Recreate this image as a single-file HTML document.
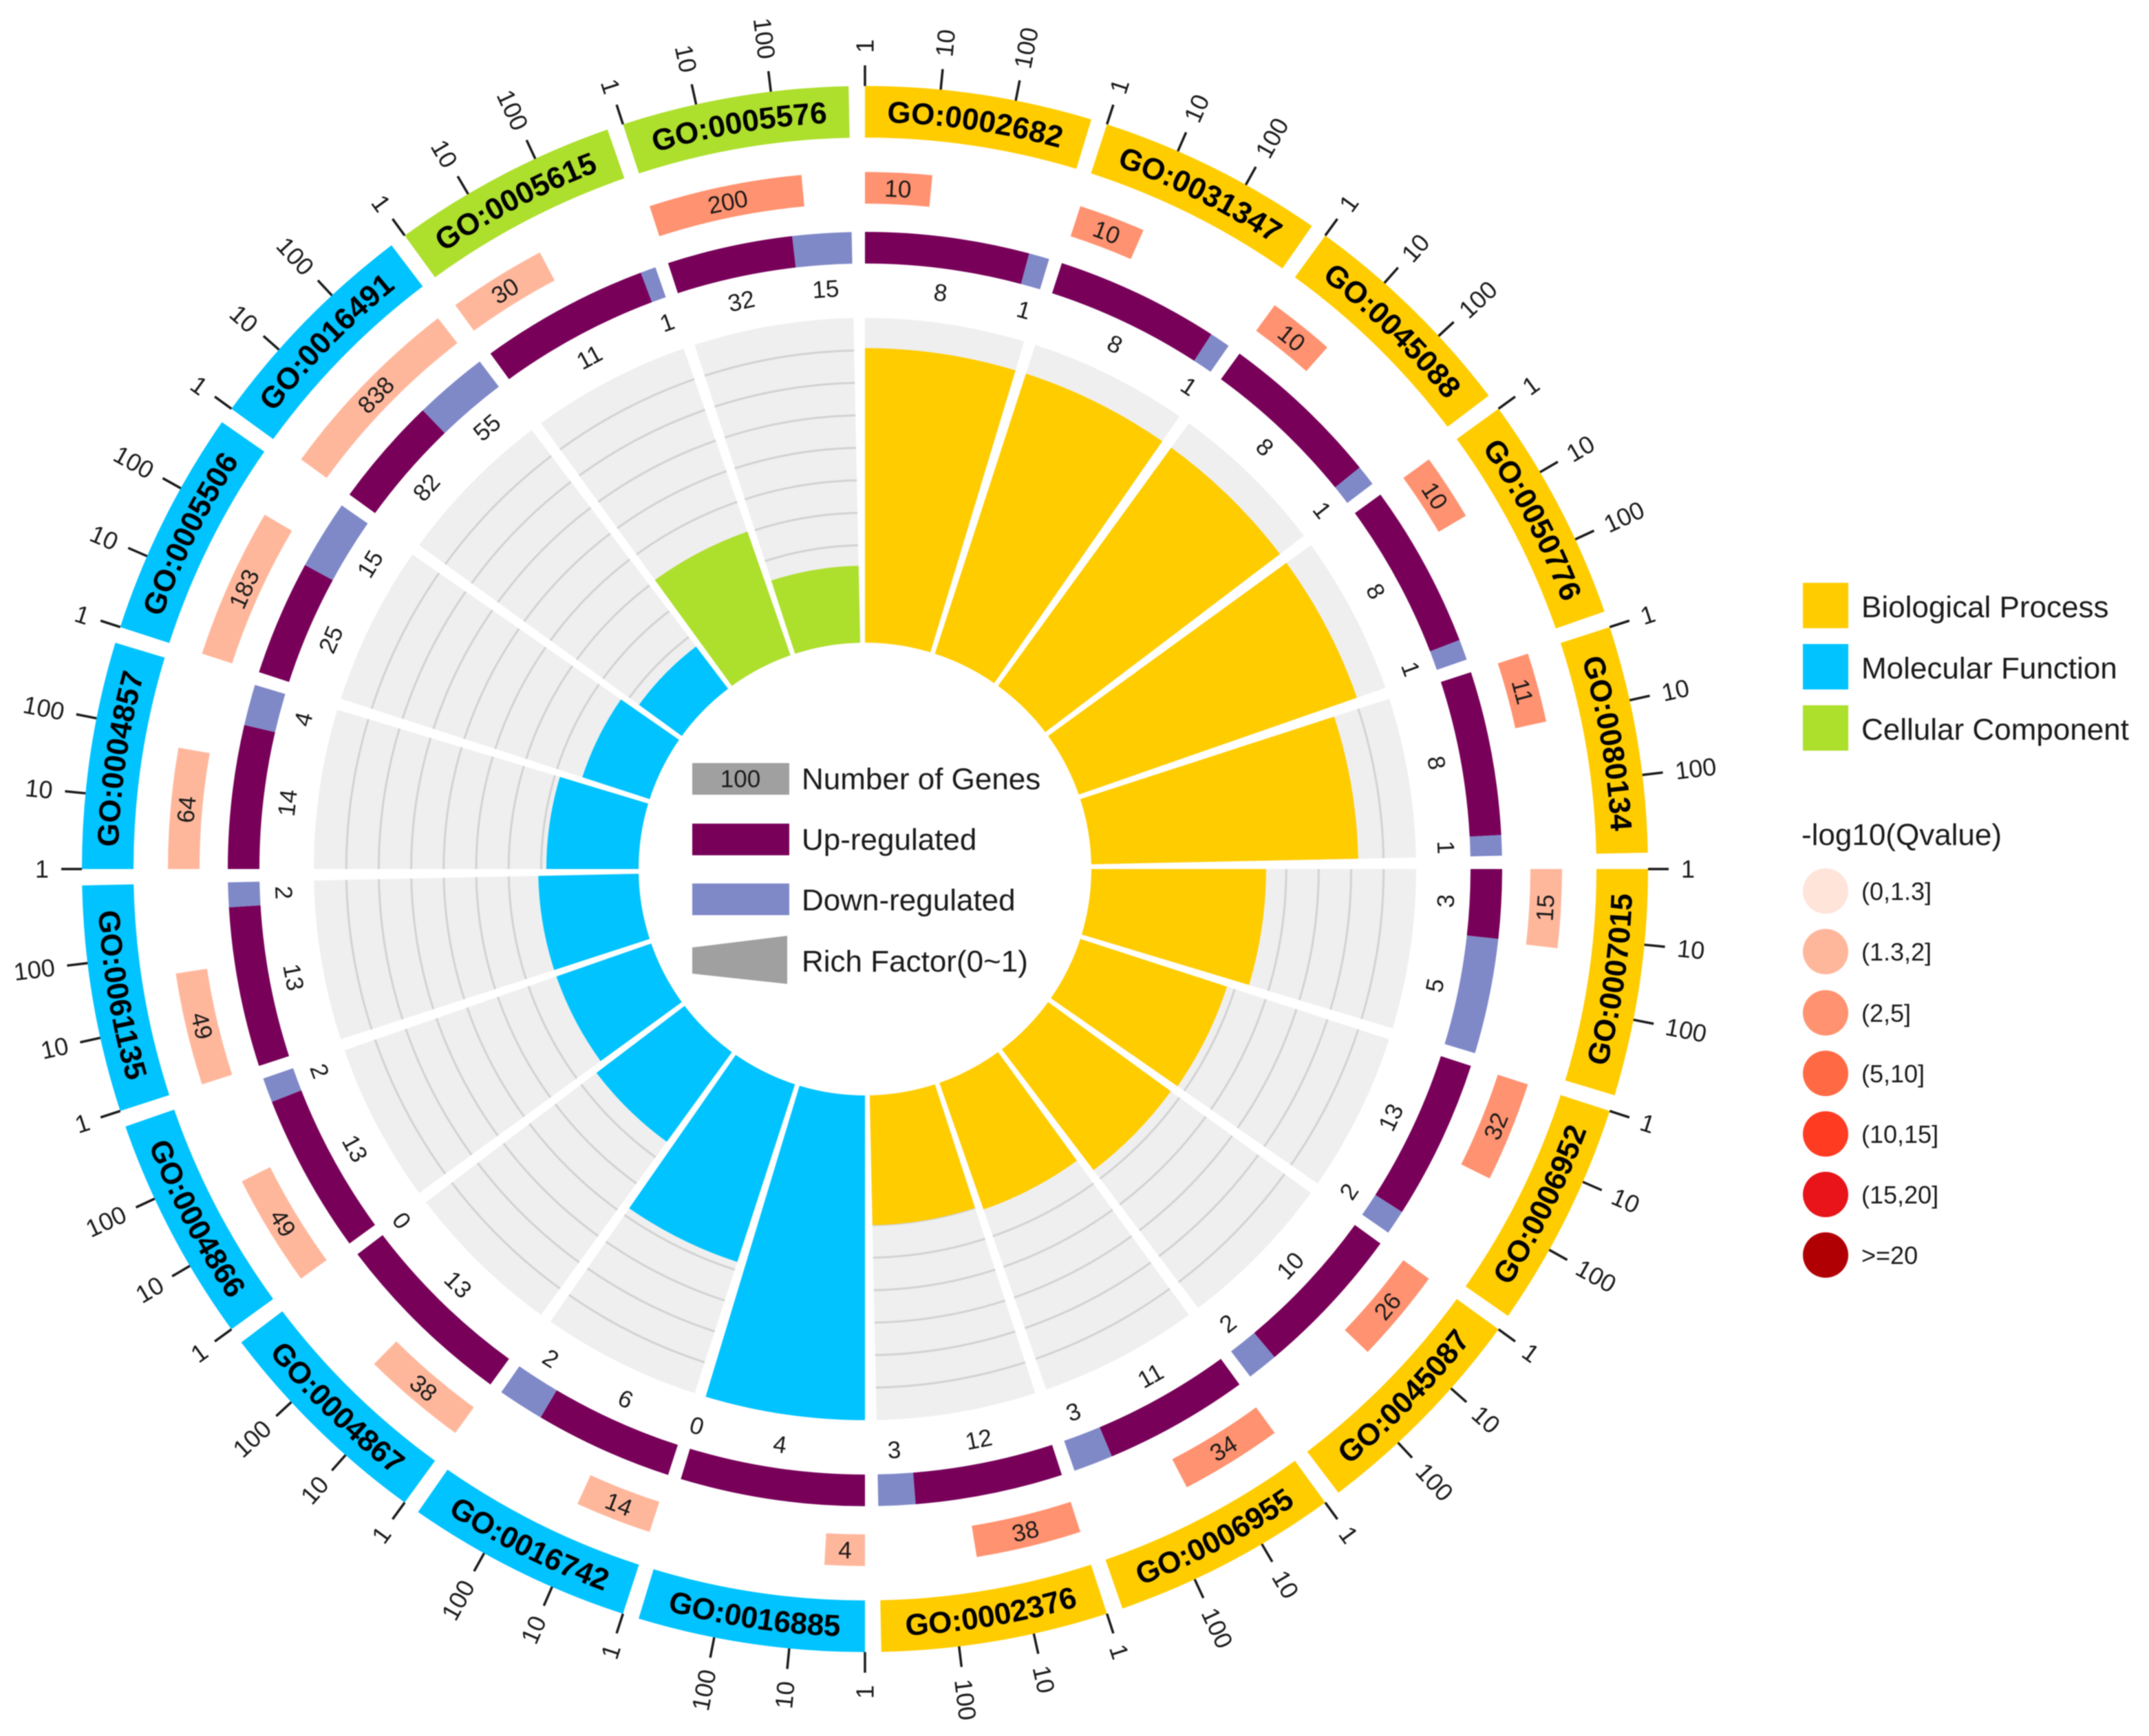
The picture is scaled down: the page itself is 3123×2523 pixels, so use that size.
<!DOCTYPE html>
<html lang="en">
<head>
<meta charset="utf-8">
<title>GO enrichment circle chart</title>
<style>
html,body{margin:0;padding:0;background:#fff;}
svg{display:block;font-family:"Liberation Sans",sans-serif;filter:blur(0.7px);}
</style>
</head>
<body>
<svg id="chart" xmlns="http://www.w3.org/2000/svg" width="3123" height="2523" viewBox="0 0 3123 2523">
<rect width="3123" height="2523" fill="#ffffff"/>
<defs id="arc-defs"></defs>
<g id="layer-bg"></g>
<g id="layer-grid"></g>
<g id="layer-bars"></g>
<g id="layer-reg"></g>
<g id="layer-count"></g>
<g id="layer-outer"></g>
<g font-size="44" fill="#1a1a1a">
  <rect x="1006" y="1109" width="141" height="46" fill="#a0a0a0"/>
  <text x="1076" y="1144" font-size="35" text-anchor="middle">100</text>
  <text x="1165" y="1147">Number of Genes</text>
  <rect x="1006" y="1197" width="141" height="46" fill="#780059"/>
  <text x="1165" y="1235">Up-regulated</text>
  <rect x="1006" y="1284" width="141" height="46" fill="#7f89c8"/>
  <text x="1165" y="1323">Down-regulated</text>
  <polygon points="1006,1377 1144,1360 1144,1430 1006,1415" fill="#a0a0a0"/>
  <text x="1165" y="1412">Rich Factor(0~1)</text>
</g>
<g font-size="44" fill="#1a1a1a">
  <rect x="2620" y="847" width="66" height="66" fill="#ffcc00"/>
  <text x="2705" y="897">Biological Process</text>
  <rect x="2620" y="936" width="66" height="66" fill="#00c3ff"/>
  <text x="2705" y="986">Molecular Function</text>
  <rect x="2620" y="1025" width="66" height="66" fill="#addf2d"/>
  <text x="2705" y="1075">Cellular Component</text>
</g>
<g fill="#1a1a1a">
  <text x="2618" y="1228" font-size="44">-log10(Qvalue)</text>
  <g font-size="36">
  <ellipse cx="2653" cy="1295" rx="33" ry="33" fill="#ffe4da"/>
  <text x="2705" y="1308">(0,1.3]</text>
  <ellipse cx="2653" cy="1383" rx="33" ry="33" fill="#ffb79c"/>
  <text x="2705" y="1396">(1.3,2]</text>
  <ellipse cx="2653" cy="1472" rx="33" ry="33" fill="#ff9270"/>
  <text x="2705" y="1485">(2,5]</text>
  <ellipse cx="2653" cy="1560" rx="33" ry="33" fill="#ff6a45"/>
  <text x="2705" y="1573">(5,10]</text>
  <ellipse cx="2653" cy="1648" rx="33" ry="33" fill="#ff3b22"/>
  <text x="2705" y="1661">(10,15]</text>
  <ellipse cx="2653" cy="1736" rx="33" ry="33" fill="#e8141a"/>
  <text x="2705" y="1749">(15,20]</text>
  <ellipse cx="2653" cy="1824" rx="33" ry="33" fill="#b10004"/>
  <text x="2705" y="1837">&gt;=20</text>
  </g>
</g>
</svg>
<script>
const goTerms = ["GO:0002682","GO:0031347","GO:0045088","GO:0050776","GO:0080134","GO:0007015","GO:0006952","GO:0045087","GO:0006955","GO:0002376","GO:0016885","GO:0016742","GO:0004867","GO:0004866","GO:0061135","GO:0004857","GO:0005506","GO:0016491","GO:0005615","GO:0005576"];
const categories = ["BP","BP","BP","BP","BP","BP","BP","BP","BP","BP","MF","MF","MF","MF","MF","MF","MF","MF","CC","CC"];
const geneCounts = [10,10,10,10,11,15,32,26,34,38,4,14,38,49,49,64,183,838,30,200];
const qBins = [2,2,2,2,2,1,2,2,2,2,1,1,1,1,1,1,1,1,1,2];
const upRegulated = [8,8,8,8,8,3,13,10,11,12,4,6,13,13,13,14,25,82,11,32];
const downRegulated = [1,1,1,1,1,5,2,2,3,3,0,2,0,2,2,4,15,55,1,15];
const richFactor = [0.907,0.907,0.907,0.907,0.822,0.538,0.475,0.467,0.413,0.40,1.00,0.575,0.341,0.309,0.309,0.284,0.218,0.163,0.403,0.237];
const axisTicks = [1,10,100];
const gridLevels = [0.1,0.2,0.3,0.4,0.5,0.6,0.7,0.8,0.9];

const categoryColors = {BP:"#ffcc00",MF:"#00c3ff",CC:"#addf2d"};
const qColors = ["#ffe4da","#ffb79c","#ff9270","#ff6a45","#ff3b22","#e8141a","#b10004"];
const NS = "http://www.w3.org/2000/svg";
const CX = 1257, CY = 1263;
const SECTOR = 18, SPAN = 16.8, DECADE = 5.55;
const R_OUT = 1138, R_OUT_IN = 1063, R_CNT = 1013, R_CNT_IN = 967, R_REG = 926, R_REG_IN = 880, R_LABEL = 845, R_BG = 801, R_IN = 329;

function startAngle(i){ return i * SECTOR; }
function logAngle(v){ return Math.log10(v) * DECADE; }
function richRadius(v){ return R_IN + v * (R_BG - R_IN); }
function pt(a, r){
  const t = a * Math.PI / 180;
  return [CX + r * Math.sin(t), CY - r * Math.cos(t)];
}
function sectorPath(a0, a1, r0, r1){
  const p1 = pt(a0, r1), p2 = pt(a1, r1), p3 = pt(a1, r0), p4 = pt(a0, r0);
  return "M" + p1[0] + " " + p1[1] + "A" + r1 + " " + r1 + " 0 0 1 " + p2[0] + " " + p2[1] +
    "L" + p3[0] + " " + p3[1] + "A" + r0 + " " + r0 + " 0 0 0 " + p4[0] + " " + p4[1] + "Z";
}
function make(tag, parent, attrs){
  const e = document.createElementNS(NS, tag);
  for (const k in attrs) e.setAttribute(k, attrs[k]);
  parent.appendChild(e);
  return e;
}
function tangentRotation(a){
  const n = ((a % 360) + 360) % 360;
  return (n > 90 && n < 270) ? n - 180 : n;
}
function centeredLabel(parent, a, r, str, size){
  const p = pt(a, r);
  const t = make("text", parent, {
    x: 0, y: 0, "font-size": size, "text-anchor": "middle", dy: "0.35em", fill: "#1a1a1a",
    transform: "translate(" + p[0] + " " + p[1] + ") rotate(" + tangentRotation(a) + ")"
  });
  t.textContent = str;
  return t;
}

const layerBg = document.getElementById("layer-bg");
const layerGrid = document.getElementById("layer-grid");
const layerBars = document.getElementById("layer-bars");
const layerReg = document.getElementById("layer-reg");
const layerCount = document.getElementById("layer-count");
const layerOuter = document.getElementById("layer-outer");
const defs = document.getElementById("arc-defs");

goTerms.forEach(function(term, i){
  const a0 = startAngle(i), a1 = a0 + SPAN, mid = a0 + SPAN / 2;
  const color = categoryColors[categories[i]];

  const bg = make("path", layerBg, {d: sectorPath(a0, a1, R_IN, R_BG), fill: "#efefef"});
  
  

  gridLevels.forEach(function(level){
    const r = richRadius(level);
    const p0 = pt(a0, r), p1 = pt(a1, r);
    const line = make("path", layerGrid, {
      d: "M" + p0[0] + " " + p0[1] + "A" + r + " " + r + " 0 0 1 " + p1[0] + " " + p1[1],
      fill: "none", stroke: "#d2d2d2", "stroke-width": 3
    });
    
    
  });

  const bar = make("path", layerBars, {d: sectorPath(a0, a1, R_IN, richRadius(richFactor[i])), fill: color});
  
  

  const total = upRegulated[i] + downRegulated[i];
  const aSplit = a0 + SPAN * upRegulated[i] / total;
  const up = make("path", layerReg, {d: sectorPath(a0, aSplit, R_REG_IN, R_REG), fill: "#780059"});
  
  
  if (downRegulated[i] > 0) {
    const down = make("path", layerReg, {d: sectorPath(aSplit, a1, R_REG_IN, R_REG), fill: "#7f89c8"});
    
    
  }
  const upLabel = centeredLabel(layerReg, (a0 + aSplit) / 2, R_LABEL, String(upRegulated[i]), 35);
  
  
  const downLabel = centeredLabel(layerReg, (aSplit + a1) / 2, R_LABEL, String(downRegulated[i]), 35);
  
  

  const aEnd = a0 + Math.min(logAngle(geneCounts[i]), SPAN);
  const box = make("path", layerCount, {d: sectorPath(a0, aEnd, R_CNT_IN, R_CNT), fill: qColors[qBins[i]]});
  
  
  const cntLabel = centeredLabel(layerCount, (a0 + aEnd) / 2, (R_CNT + R_CNT_IN) / 2, String(geneCounts[i]), 35);
  
  

  const seg = make("path", layerOuter, {d: sectorPath(a0, a1, R_OUT_IN, R_OUT), fill: color});
  
  

  const flip = mid > 90 && mid < 270;
  const baseR = flip ? (R_OUT + R_OUT_IN) / 2 + 15 : (R_OUT + R_OUT_IN) / 2 - 15;
  const from = pt(flip ? a1 : a0, baseR), to = pt(flip ? a0 : a1, baseR);
  make("path", defs, {
    id: "go-arc-" + i,
    d: "M" + from[0] + " " + from[1] + "A" + baseR + " " + baseR + " 0 0 " + (flip ? 0 : 1) + " " + to[0] + " " + to[1]
  });
  const label = make("text", layerOuter, {"font-size": 44, "font-weight": "bold", fill: "#000", "text-anchor": "middle"});
  
  
  const tp = make("textPath", label, {href: "#go-arc-" + i, startOffset: "50%"});
  tp.textContent = term;

  axisTicks.forEach(function(v){
    const a = a0 + logAngle(v);
    const p0 = pt(a, R_OUT), p1 = pt(a, R_OUT + 30), p2 = pt(a, R_OUT + 48);
    const tick = make("line", layerOuter, {x1: p0[0], y1: p0[1], x2: p1[0], y2: p1[1], stroke: "#1a1a1a", "stroke-width": 3.5});
    
    
    const right = a < 180;
    const t = make("text", layerOuter, {
      x: 0, y: 0, "font-size": 36, dy: "0.35em", fill: "#1a1a1a",
      "text-anchor": right ? "start" : "end",
      transform: "translate(" + p2[0] + " " + p2[1] + ") rotate(" + (right ? a - 90 : a + 90) + ")"
    });
    
    
    t.textContent = String(v);
  });
});
</script>
</body>
</html>
